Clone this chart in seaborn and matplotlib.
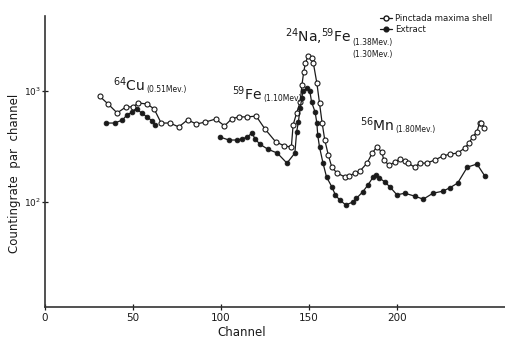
import numpy as np
import pandas as pd
import matplotlib
matplotlib.use('Agg')
import matplotlib.pyplot as plt
import seaborn as sns
from matplotlib.lines import Line2D
from matplotlib.ticker import NullLocator

# Pinctada maxima shell (open circles)
shell_channel = [31, 36, 41, 46, 50, 53, 58, 62, 66, 71, 76, 81, 86, 91, 97, 102, 106, 110,
                 115, 120, 125, 131, 136, 140, 141, 143, 145, 146, 147, 148, 149.5, 151.5,
                 152.5, 154.5, 156, 157.5, 159, 161, 163, 166, 170.5, 173, 176, 179, 183,
                 186, 188.5, 191.5, 192.5, 195.5, 199, 201.5, 204.5, 206.5, 210, 213, 217,
                 221.5, 226, 230, 234.5, 238.5, 241, 243, 245.5, 247, 248, 249.5]
shell_counts = [900, 760, 635, 720, 720, 780, 765, 690, 515, 515, 475, 550, 505, 525, 560, 485,
                560, 585, 585, 595, 455, 350, 320, 313, 495, 635, 795, 1130, 1480, 1790, 2070,
                1980, 1790, 1180, 780, 515, 362, 265, 206, 182, 168, 172, 182, 190, 224, 276,
                313, 282, 239, 215, 229, 244, 234, 224, 206, 224, 224, 239, 259, 270, 276, 306,
                340, 385, 430, 520, 515, 465]

# Extract (filled circles), two measured segments
extract_channel = [34.5, 39.5, 44, 46.5, 49.5, 52, 55, 58, 61, 62.5,
                   99.5, 104.5, 109, 112, 115, 117.5, 119.5, 122, 126.5, 132, 137.5, 142,
                   143, 144, 145, 146, 146.5, 149, 150.5, 151.5, 153.5, 154.5, 155, 156, 158,
                   160, 163, 165, 167.5, 171, 175, 177, 180.5, 183.5, 186.5, 188, 190, 193,
                   196, 200, 204.5, 210, 215, 220.5, 226, 230, 234.5, 240, 245.5, 250]
extract_counts = [515, 515, 548, 608, 647, 688, 634, 583, 537, 494,
                  385, 362, 362, 370, 385, 418, 370, 333, 300, 276, 224, 276,
                  428, 526, 703, 865, 1000, 1064, 1000, 796, 647, 515, 401, 313, 224,
                  168, 137, 116, 104, 94, 100, 108, 123, 142, 168, 175, 165, 152,
                  137, 116, 120, 113, 106, 120, 125, 134, 148, 206, 220, 171]
extract_segment = [0] * 10 + [1] * 50

x_ticks = [0, 50, 100, 150, 200]
y_ticks = [100, 1000]
y_tick_labels = [r'$10^2$', r'$10^3$']

shell_df = pd.DataFrame({'channel': shell_channel, 'counts': shell_counts})
extract_df = pd.DataFrame({'channel': extract_channel, 'counts': extract_counts,
                           'segment': extract_segment})

sns.set_style('ticks')
plt.rcParams['font.family'] = ['DejaVu Sans']
ink = '#1a1a1a'

fig = plt.figure(figsize=(5.06, 3.41), dpi=100)
ax = fig.add_axes([0.089, 0.0997, 0.911, 0.853])

sns.lineplot(data=shell_df, x='channel', y='counts', ax=ax, sort=False, estimator=None,
             color=ink, lw=0.9, marker='o', markersize=3.6, markerfacecolor='white',
             markeredgecolor=ink, markeredgewidth=0.8)
sns.lineplot(data=extract_df, x='channel', y='counts', units='segment', ax=ax, sort=False,
             estimator=None, color=ink, lw=0.9, marker='o', markersize=3.4,
             markerfacecolor=ink, markeredgecolor=ink, markeredgewidth=0.6)

ax.set_yscale('log')
ax.set_xlim(0, 262)
ax.set_ylim(11.3, 4740)
ax.set_xticks(x_ticks)
ax.set_yticks(y_ticks)
ax.set_yticklabels(y_tick_labels)
ax.yaxis.set_minor_locator(NullLocator())
ax.tick_params(direction='inout', length=4, width=0.9, colors=ink, labelsize=7.5, pad=2)
ax.tick_params(axis='y', labelsize=6.5, pad=1)
for side in ['top', 'right']:
    ax.spines[side].set_visible(False)
for side in ['left', 'bottom']:
    ax.spines[side].set_linewidth(1.2)
    ax.spines[side].set_color('#333333')
ax.set_xlabel('')
ax.set_ylabel('')

fig.text(242 / 506, 1 - 333 / 341, 'Channel', fontsize=8.5, color=ink, ha='center', va='center')
fig.text(15 / 506, 1 - 173 / 341, 'Countingrate  par  channel', fontsize=8.5, color=ink,
         rotation=90, ha='center', va='center')


def iso_label(x, y, big, small, small2=None):
    t = ax.text(x, y, big, fontsize=10, color=ink, ha='left', va='baseline')
    s = ax.annotate(small, xy=(1, 0), xycoords=t, xytext=(1, 0), textcoords='offset points',
                    fontsize=5.5, color=ink, ha='left', va='bottom')
    if small2:
        ax.annotate(small2, xy=(0, 0), xycoords=s, xytext=(0, -2), textcoords='offset points',
                    fontsize=5.5, color=ink, ha='left', va='top')


iso_label(38.6, 1000, r'$^{64}$Cu', '(0.51Mev.)')
iso_label(106, 830, r'$^{59}$Fe', '(1.10Mev)')
iso_label(136.4, 2765, r'$^{24}$Na,$^{59}$Fe', '(1.38Mev.)', '(1.30Mev.)')
iso_label(179, 436, r'$^{56}$Mn', '(1.80Mev.)')

handles = [Line2D([], [], color=ink, lw=0.9, marker='o', markersize=3.6,
                  markerfacecolor='white', markeredgecolor=ink),
           Line2D([], [], color=ink, lw=0.9, marker='o', markersize=3.4,
                  markerfacecolor=ink, markeredgecolor=ink)]
fig.legend(handles, ['Pinctada maxima shell', 'Extract'], loc='upper left',
           bbox_to_anchor=(376 / 506, 1 - 10 / 341), frameon=False,
           prop={'size': 6.2}, handlelength=1.3, handletextpad=0.4,
           labelspacing=0.2, borderpad=0, labelcolor=ink)

fig.savefig('out.png', dpi=100)
